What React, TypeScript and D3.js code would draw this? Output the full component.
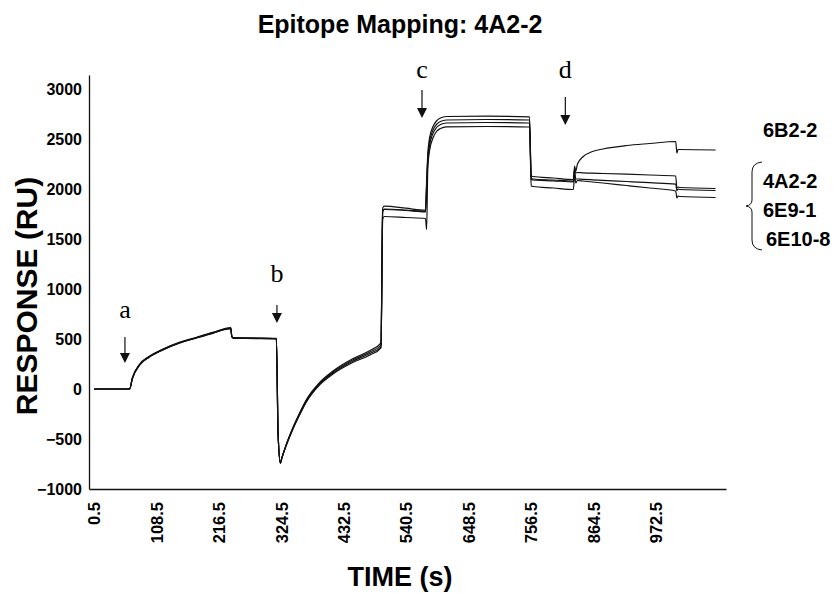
import React, { useRef, useEffect } from 'react';
import * as d3 from 'd3';

// sample times (s), shared by all four sensorgrams
const times = [0.5, 30, 62, 67, 79, 96, 119, 148, 178, 206, 237, 239, 242, 280, 316, 319, 323, 325, 333, 344, 356, 368, 391, 414, 448, 478, 497, 500, 503, 540, 574, 576, 578, 581, 587, 593, 600, 610, 680, 754, 757, 760, 795, 830, 832, 834, 837, 846, 863, 881, 922, 962, 1007, 1009, 1011, 1014, 1076];

// response (RU)
const r6B22 = [0, 0, 0, 115, 245, 327, 398, 466, 518, 566, 614, 528, 513, 510, 507, -450, -745, -702, -556, -394, -243, -106, 66, 180, 302, 385, 462, 1810, 1828, 1808, 1788, 2080, 2350, 2510, 2625, 2680, 2710, 2725, 2728, 2722, 2130, 2125, 2110, 2095, 2230, 2180, 2250, 2320, 2375, 2400, 2435, 2455, 2475, 2360, 2395, 2395, 2390];
const r4A22 = [0, 0, 0, 112, 242, 323, 394, 463, 514, 562, 610, 524, 510, 508, 505, -450, -742, -700, -560, -400, -250, -113, 58, 170, 290, 370, 440, 1780, 1800, 1790, 1775, 2040, 2310, 2470, 2590, 2645, 2675, 2690, 2695, 2690, 2105, 2100, 2090, 2080, 2200, 2160, 2165, 2162, 2158, 2155, 2148, 2140, 2130, 2010, 2020, 2015, 2005];
const r6E91 = [0, 0, 0, 108, 238, 320, 391, 460, 512, 560, 607, 522, 508, 506, 503, -450, -740, -699, -563, -405, -256, -121, 50, 160, 278, 355, 422, 1775, 1795, 1785, 1770, 2000, 2270, 2430, 2555, 2615, 2645, 2660, 2665, 2660, 2095, 2090, 2082, 2072, 2190, 2100, 2100, 2097, 2092, 2087, 2075, 2063, 2048, 1985, 2000, 1995, 1985];
const r6E108 = [0, 0, 0, 105, 236, 318, 389, 458, 510, 557, 604, 520, 506, 504, 501, -450, -738, -698, -566, -410, -263, -129, 42, 150, 265, 340, 412, 1700, 1725, 1715, 1705, 1595, 2200, 2380, 2510, 2575, 2605, 2622, 2625, 2620, 2030, 2025, 2010, 1995, 2150, 2060, 2085, 2080, 2070, 2060, 2035, 2010, 1980, 1910, 1930, 1925, 1915];

const seriesList = [r6B22, r4A22, r6E91, r6E108];

const xTicks = [0.5, 108.5, 216.5, 324.5, 432.5, 540.5, 648.5, 756.5, 864.5, 972.5];
const yTicks = [-1000, -500, 0, 500, 1000, 1500, 2000, 2500, 3000];

// injection markers: label, time, top of arrow (RU), tip (RU)
const markers = [
  { label: 'a', t: 54, top: 520, tip: 260, ly: 710 },
  { label: 'b', t: 317, top: 840, tip: 660, ly: 1070 },
  { label: 'c', t: 568, top: 2990, tip: 2710, ly: 3110 },
  { label: 'd', t: 816, top: 2920, tip: 2640, ly: 3110 },
];

const groupNames = ['4A2-2', '6E9-1', '6E10-8'];

const App = () => {
  const ref = useRef<SVGSVGElement>(null);

  useEffect(() => {
    const svg = d3.select(ref.current);
    svg.selectAll('*').remove();

    const x = d3.scaleLinear().domain([-8.2, 1094]).range([89, 726]);
    const y = d3.scaleLinear().domain([-1000, 3140]).range([489, 75]);
    const sans = 'Liberation Sans, Arial, sans-serif';
    const serif = 'Liberation Serif, Times New Roman, serif';

    // title
    svg.append('text')
      .attr('x', 400).attr('y', 33)
      .attr('text-anchor', 'middle')
      .attr('font-family', sans).attr('font-weight', 'bold').attr('font-size', 25)
      .text('Epitope Mapping: 4A2-2');

    // y axis
    const gy = svg.append('g').attr('transform', 'translate(89,0)')
      .call(d3.axisLeft(y).tickValues(yTicks).tickSize(0).tickPadding(7).tickFormat(d3.format('d')));
    gy.select('.domain').attr('stroke', '#111').attr('stroke-width', 1.3);
    gy.selectAll('text').attr('font-family', sans).attr('font-weight', 'bold').attr('font-size', 16).attr('fill', '#000');

    // x axis
    const gx = svg.append('g').attr('transform', 'translate(0,489)')
      .call(d3.axisBottom(x).tickValues(xTicks).tickSize(0).tickFormat(d => String(d)));
    gx.select('.domain').attr('stroke', '#111').attr('stroke-width', 1.3);
    gx.selectAll('text')
      .attr('transform', 'rotate(-90)')
      .attr('text-anchor', 'end')
      .attr('x', -13).attr('y', 0).attr('dy', '0.35em')
      .attr('font-family', sans).attr('font-weight', 'bold').attr('font-size', 16.5).attr('fill', '#000');

    // axis titles
    svg.append('text')
      .attr('transform', 'translate(37,296) rotate(-90)')
      .attr('text-anchor', 'middle')
      .attr('font-family', sans).attr('font-weight', 'bold').attr('font-size', 30)
      .text('RESPONSE (RU)');
    svg.append('text')
      .attr('x', 400).attr('y', 586)
      .attr('text-anchor', 'middle')
      .attr('font-family', sans).attr('font-weight', 'bold').attr('font-size', 27)
      .text('TIME (s)');

    // sensorgrams
    const line = d3.line<number>()
      .x((_, i) => x(times[i]))
      .y(d => y(d))
      .curve(d3.curveMonotoneX);
    svg.append('g').selectAll('path')
      .data(seriesList)
      .join('path')
      .attr('d', d => line(d))
      .attr('fill', 'none')
      .attr('stroke', '#111')
      .attr('stroke-width', 1.2);

    // injection arrows
    const mk = svg.append('g').selectAll('g').data(markers).join('g');
    mk.append('line')
      .attr('x1', d => x(d.t)).attr('x2', d => x(d.t))
      .attr('y1', d => y(d.top)).attr('y2', d => y(d.tip) - 8)
      .attr('stroke', '#111').attr('stroke-width', 1.2);
    mk.append('path')
      .attr('d', d => {
        const px = x(d.t), py = y(d.tip);
        return `M${px - 5},${py - 10}L${px + 5},${py - 10}L${px},${py}Z`;
      })
      .attr('fill', '#111');
    mk.append('text')
      .attr('x', d => x(d.t)).attr('y', d => y(d.ly))
      .attr('text-anchor', 'middle')
      .attr('font-family', serif).attr('font-size', 26)
      .text(d => d.label);

    // series labels
    const lab = svg.append('g').attr('font-family', sans).attr('font-weight', 'bold').attr('font-size', 20);
    lab.append('text').attr('x', 763).attr('y', 137).text('6B2-2');
    lab.selectAll('text.grp').data(groupNames).join('text')
      .attr('class', 'grp')
      .attr('x', (d, i) => (i === 2 ? 766 : 763))
      .attr('y', (d, i) => 188 + i * 29)
      .text(d => d);
    svg.append('path')
      .attr('d', 'M762,162 Q752,163 752,172 L752,200 Q752,205 746,206 Q752,207 752,212 L752,240 Q752,249 762,250')
      .attr('fill', 'none').attr('stroke', '#111').attr('stroke-width', 1);
  }, []);

  return (
    <svg ref={ref} width={838} height={594} style={{ position: 'absolute', left: 0, top: 0, background: '#fff' }} />
  );
};

export default App;
